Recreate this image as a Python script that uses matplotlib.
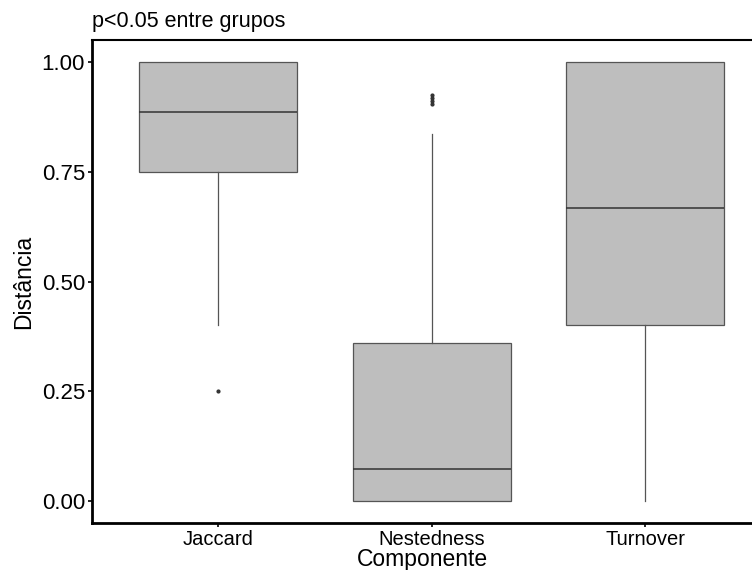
import matplotlib
matplotlib.use("Agg")
import matplotlib.pyplot as plt

plt.rcParams['font.family'] = ['Liberation Sans', 'DejaVu Sans']

componentes = ["Jaccard", "Nestedness", "Turnover"]
whislo = [0.40, 0.00, 0.00]
q1 = [0.75, 0.00, 0.40]
med = [0.887, 0.073, 0.667]
q3 = [1.00, 0.36, 1.00]
whishi = [1.00, 0.835, 1.00]
outliers = [[0.25], [0.905, 0.912, 0.918, 0.925], []]

stats = []
for i in range(len(componentes)):
    stats.append(dict(label=componentes[i], whislo=whislo[i], q1=q1[i], med=med[i],
                      q3=q3[i], whishi=whishi[i], fliers=outliers[i]))

fig = plt.figure(figsize=(7.52, 5.70), dpi=100)
ax = fig.add_axes([92/752, 1-523/570, 1-92/752, (523-40)/570])

ax.bxp(stats, positions=[1, 2, 3], widths=0.74, showcaps=False, patch_artist=True,
       boxprops=dict(facecolor="#bebebe", edgecolor="#555555", linewidth=0.9),
       medianprops=dict(color="#333333", linewidth=1.1),
       whiskerprops=dict(color="#555555", linewidth=0.9),
       flierprops=dict(marker="o", markersize=2, markerfacecolor="#333333",
                       markeredgecolor="#333333"))

ax.set_xlim(0.41, 3.5)
ax.set_ylim(-0.05, 1.05)
ax.set_yticks([0, 0.25, 0.5, 0.75, 1.0])
ax.set_yticklabels(["0.00", "0.25", "0.50", "0.75", "1.00"], fontsize=16)
ax.set_xticks([1, 2, 3])
ax.set_xticklabels(componentes, fontsize=14.5)
ax.tick_params(axis="both", length=3, width=1.2, color="black", pad=2)

for s in ["left", "bottom"]:
    ax.spines[s].set_linewidth(2.0)
ax.spines["top"].set_linewidth(1.5)
ax.spines["right"].set_visible(False)

ax.set_xlabel("Componente", fontsize=16.5, labelpad=-1)
ax.set_ylabel("Distância", fontsize=16.5, labelpad=5)
ax.set_title("p<0.05 entre grupos", loc="left", fontsize=15.5, pad=9)

fig.savefig("out.png", dpi=100)
